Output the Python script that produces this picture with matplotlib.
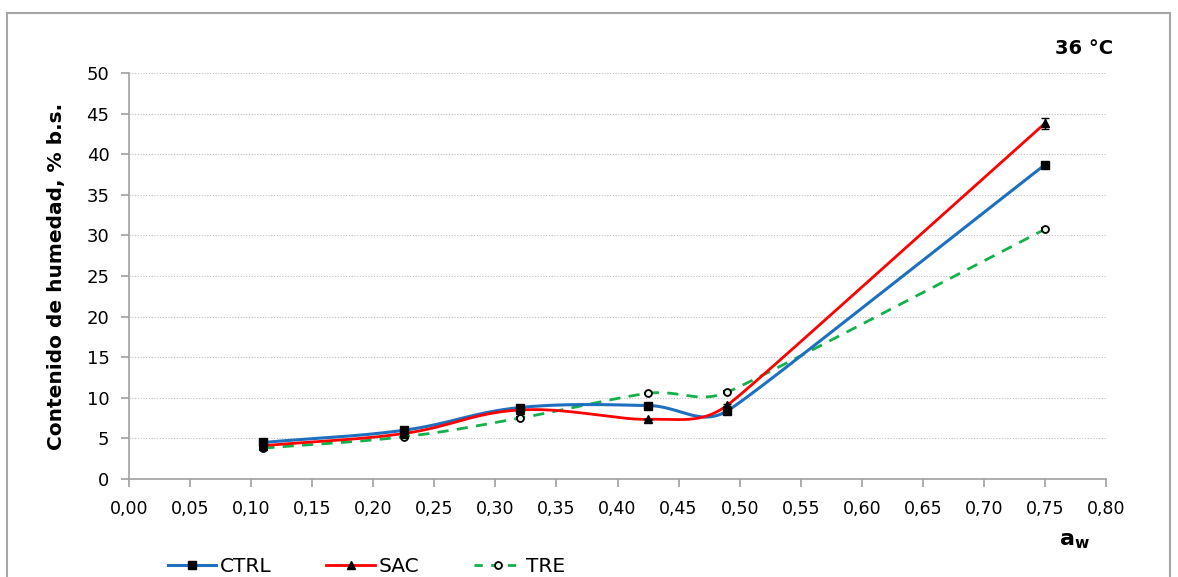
import numpy as np
import matplotlib
matplotlib.use("Agg")
import matplotlib.pyplot as plt
from matplotlib.lines import Line2D
from matplotlib.patches import Rectangle

plt.rcParams['font.family'] = ['DejaVu Sans']

aw = [0.11, 0.225, 0.32, 0.425, 0.49, 0.75]
ctrl = [4.5, 6.0, 8.8, 9.05, 8.4, 38.7]
sac = [4.1, 5.6, 8.5, 7.35, 9.1, 43.8]
tre = [3.8, 5.2, 7.5, 10.55, 10.7, 30.75]
ctrl_err = [0.1, 0.1, 0.1, 0.1, 0.1, 0.2]
sac_err = [0.1, 0.1, 0.1, 0.1, 0.1, 0.7]
tre_err = [0.1, 0.1, 0.1, 0.1, 0.1, 0.2]
xticks = [0.00, 0.05, 0.10, 0.15, 0.20, 0.25, 0.30, 0.35, 0.40, 0.45, 0.50, 0.55, 0.60, 0.65, 0.70, 0.75, 0.80]
yticks = [0, 5, 10, 15, 20, 25, 30, 35, 40, 45, 50]


def smooth(x, y, sx=1221.0, sy=8.12, n=50, k=0.4):
    # Excel-like smoothing: cubic Bezier, tangent along neighbours,
    # handle length limited by the shorter adjacent segment
    P = np.column_stack([np.asarray(x) * sx, np.asarray(y) * sy])
    m = len(P)
    seglen = [np.linalg.norm(P[i + 1] - P[i]) for i in range(m - 1)]
    T, H = [], []
    for i in range(m):
        a = P[i - 1] if i > 0 else P[i]
        b = P[i + 1] if i < m - 1 else P[i]
        d = b - a
        T.append(d / np.linalg.norm(d))
        adj = [seglen[j] for j in (i - 1, i) if 0 <= j < m - 1]
        H.append(k * min(adj))
    out = []
    for i in range(m - 1):
        p1, p2 = P[i], P[i + 1]
        c1 = p1 + T[i] * H[i]
        c2 = p2 - T[i + 1] * H[i + 1]
        t = np.linspace(0, 1, n)[:, None]
        seg = ((1 - t) ** 3) * p1 + 3 * ((1 - t) ** 2) * t * c1 + 3 * (1 - t) * t ** 2 * c2 + t ** 3 * p2
        out.append(seg if i == 0 else seg[1:])
    S = np.vstack(out)
    return S[:, 0] / sx, S[:, 1] / sy


fig = plt.figure(figsize=(11.78, 5.77), dpi=100)
ax = fig.add_axes([129 / 1178, 1 - 479 / 577, (1106 - 129) / 1178, (479 - 73) / 577])

fig.patches.append(Rectangle((7 / 1178, -0.02), 1163 / 1178, (577 - 13) / 577 + 0.02,
                             transform=fig.transFigure, fill=False, edgecolor='#a6a6a6', lw=1.5))

blue = '#1f6fc0'
red = '#ff0000'
green = '#13b04b'

xs, ys = smooth(aw, ctrl)
ax.plot(xs, ys, color=blue, lw=2.2, zorder=3)
xs, ys = smooth(aw, sac)
ax.plot(xs, ys, color=red, lw=2.0, zorder=4)
xs, ys = smooth(aw, tre)
ax.plot(xs, ys, color=green, lw=2.0, ls=(0, (4, 3)), zorder=2)

ax.errorbar(aw, ctrl, yerr=ctrl_err, fmt='s', color='black', ms=6, capsize=3, elinewidth=1, zorder=5)
ax.errorbar(aw, sac, yerr=sac_err, fmt='^', color='black', ms=6, capsize=3, elinewidth=1, zorder=6)
ax.errorbar(aw, tre, yerr=tre_err, fmt='o', mfc='#e8f5e8', mec='black', ecolor='black', ms=5,
            mew=1.3, capsize=3, elinewidth=1, zorder=5)

ax.set_xlim(0, 0.80)
ax.set_ylim(0, 50)
ax.set_xticks(xticks)
ax.set_xticklabels([f"{v:.2f}".replace('.', ',') for v in xticks], fontsize=12.5)
ax.set_yticks(yticks)
ax.set_yticklabels([str(v) for v in yticks], fontsize=13)
for s in ['top', 'right']:
    ax.spines[s].set_visible(False)
for s in ['left', 'bottom']:
    ax.spines[s].set_color('#a0a0a0')
    ax.spines[s].set_linewidth(1.2)
ax.tick_params(axis='both', colors='#a0a0a0', labelcolor='black', length=6, width=1.2)
ax.tick_params(axis='x', pad=9)
ax.tick_params(axis='y', pad=8)
ax.grid(axis='y', color='#bfbfbf', ls=(0, (1, 1.5)), lw=0.8)
ax.set_axisbelow(True)

ax.set_ylabel('Contenido de humedad, % b.s.', fontsize=14.5, fontweight='bold', labelpad=15)
fig.text(1113 / 1178, 1 - 49 / 577, '36 °C', fontsize=14, fontweight='bold', ha='right', va='center')
fig.text(1075 / 1178, 1 - 541 / 577, r'$\mathbf{a}_{\mathbf{w}}$', fontsize=16, ha='center', va='center')

handles = [
    Line2D([], [], color=blue, lw=2.2, marker='s', mfc='black', mec='black', ms=6),
    Line2D([], [], color=red, lw=2.0, marker='^', mfc='black', mec='black', ms=6),
    Line2D([], [], color=green, lw=2.0, ls=(0, (3, 3)), marker='o', mfc='#e8f5e8', mec='black', ms=5, mew=1.3),
]
fig.legend(handles, ['CTRL', 'SAC', 'TRE'], loc='center left', bbox_to_anchor=(168 / 1178, 1 - 567 / 577),
           ncol=3, frameon=False, fontsize=14.5, handlelength=2.4, columnspacing=2.7, handletextpad=0.2,
           borderpad=0, borderaxespad=0)

fig.savefig('out.png', dpi=100)
